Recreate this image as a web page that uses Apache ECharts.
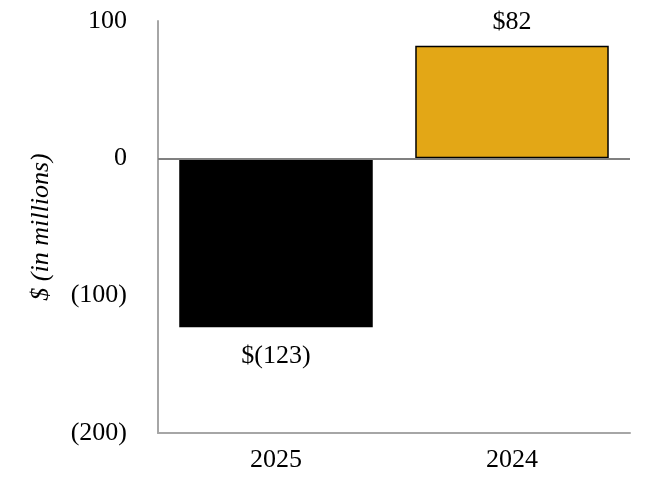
<!DOCTYPE html>
<html>
<head>
<meta charset="utf-8">
<script src="https://cdn.jsdelivr.net/npm/echarts@6/dist/echarts.min.js"></script>
<style>html,body{margin:0;padding:0;background:#fff}#c{width:650px;height:500px}</style>
</head>
<body>
<div id="c"></div>
<script>
const categories = ['2025', '2024'];
const values = [-123, 82];
const barColors = ['#000000', '#E3A716'];
const yTicks = { min: -200, max: 100, interval: 100 };
const yName = '$ (in millions)';

const fmtNum = v => v < 0 ? '(' + Math.abs(v) + ')' : String(v);
const fmtLabel = v => v < 0 ? '$(' + Math.abs(v) + ')' : '$' + v;
const font = '"Liberation Serif", "Times New Roman", serif';

const chart = echarts.init(document.getElementById('c'), null, { renderer: 'canvas' });
chart.setOption({
  animation: false,
  backgroundColor: '#fff',
  grid: { left: 158, right: 20, top: 21, bottom: 67 },
  xAxis: {
    type: 'category',
    data: categories,
    axisLine: { onZero: false, lineStyle: { color: '#A6A6A6', width: 2 } },
    axisTick: { show: false },
    axisLabel: { color: '#000', fontFamily: font, fontSize: 26, margin: 14 }
  },
  yAxis: {
    type: 'value',
    min: yTicks.min, max: yTicks.max, interval: yTicks.interval,
    name: yName,
    nameLocation: 'middle',
    nameRotate: 90,
    nameGap: 104,
    nameTextStyle: { color: '#000', fontFamily: font, fontSize: 26, fontStyle: 'italic' },
    axisLine: { show: true, lineStyle: { color: '#A6A6A6', width: 2 } },
    axisTick: { show: false },
    splitLine: { show: false },
    axisLabel: { color: '#000', fontFamily: font, fontSize: 26, margin: 31, formatter: fmtNum }
  },
  series: [{
    type: 'bar',
    barWidth: '82%',
    data: values.map((v, i) => ({
      value: v,
      itemStyle: { color: barColors[i], borderColor: '#000', borderWidth: v > 0 ? 1.5 : 0 },
      label: { position: v < 0 ? 'bottom' : 'top', distance: v < 0 ? 16 : 11 }
    })),
    label: {
      show: true,
      color: '#000',
      fontFamily: font,
      fontSize: 26,
      formatter: p => fmtLabel(p.value)
    },
    markLine: {
      silent: true,
      symbol: 'none',
      label: { show: false },
      lineStyle: { color: '#808080', width: 2, type: 'solid' },
      data: [{ yAxis: 0 }]
    }
  }]
});
</script>
</body>
</html>
